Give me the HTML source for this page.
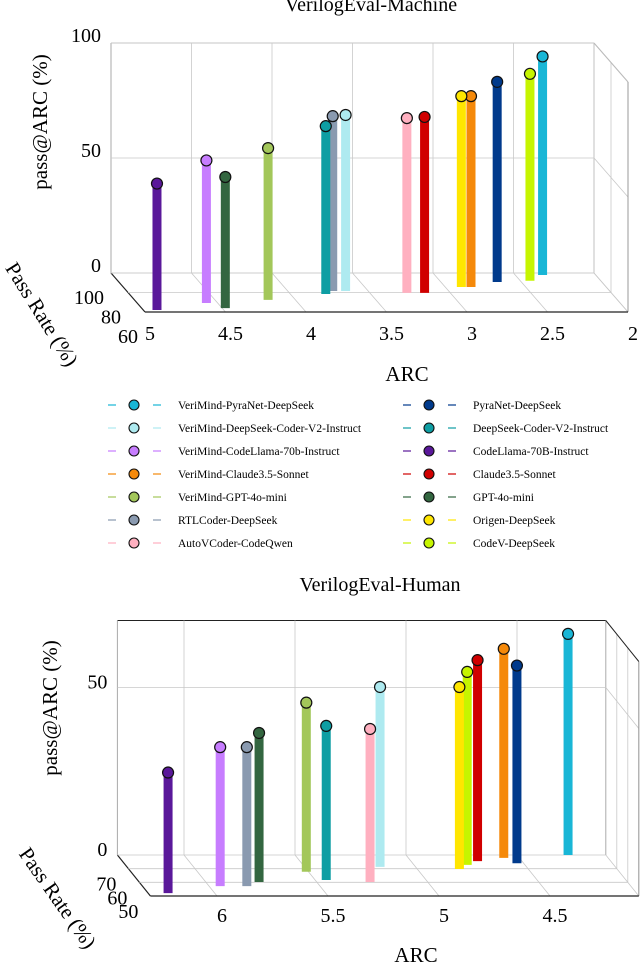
<!DOCTYPE html>
<html><head><meta charset="utf-8"><style>
html,body{margin:0;padding:0;background:#fff;}
svg{display:block;font-family:"Liberation Serif",serif;}
</style></head><body>
<svg id="fig" width="640" height="968" viewBox="0 0 640 968" xmlns="http://www.w3.org/2000/svg">
<g id="top"></g>
<g id="bot"></g>
<g id="legend"></g>
</svg>
<script>
const models = ["VeriMind-PyraNet-DeepSeek","VeriMind-DeepSeek-Coder-V2-Instruct","VeriMind-CodeLlama-70b-Instruct","VeriMind-Claude3.5-Sonnet","VeriMind-GPT-4o-mini","RTLCoder-DeepSeek","AutoVCoder-CodeQwen","PyraNet-DeepSeek","DeepSeek-Coder-V2-Instruct","CodeLlama-70B-Instruct","Claude3.5-Sonnet","GPT-4o-mini","Origen-DeepSeek","CodeV-DeepSeek"];
const colors = ["#19b6d6","#aeeaf0","#c77dff","#f5890a","#a3c75a","#8a9ab0","#ffb0c0","#003a8c","#0e9ea3","#5a189a","#d00000","#336640","#ffe600","#c6f500"];
// VerilogEval-Machine
const machineArc   = [2.33,3.64,4.57,2.84,4.17,3.72,3.27,2.65,3.78,4.915,3.16,4.48,2.90,2.44];
const machineRate  = [98,81.6,69.2,85.6,72.4,81.6,79.6,90.8,78.4,62,79.6,64,85.6,92];
const machineScore = [95,76.5,62,83,66,76,76,87,73,55,76.5,57,83,90];
const machineArcTicks = [5,4.5,4,3.5,3,2.5,2];
const machineZTicks = [0,50,100];
const machineRateTicks = [100,80,60];
// VerilogEval-Human
const humanArc   = [4.27,5.16,5.95,4.57,5.51,5.83,5.26,4.53,5.45,6.21,4.70,5.76,4.81,4.76];
const humanRate  = [80,71.3,57.2,77.9,67.7,57.2,60.2,74,61.7,52.1,75.5,60.2,69.8,72.8];
const humanScore = [66,53.7,41.5,62.4,50.5,41.5,45.7,59,46,36,60,44.5,54.3,57.6];
const humanArcTicks = [6,5.5,5,4.5];
const humanZTicks = [0,50];
const humanRateTicks = [70,60,50];

const NS="http://www.w3.org/2000/svg";
function mk(parent,tag,attrs,text){const e=document.createElementNS(NS,tag);for(const k in attrs)e.setAttribute(k,attrs[k]);if(text!==undefined)e.textContent=text;parent.appendChild(e);return e;}

function drawChart(g,cfg,arcs,rates,scores,arcTicks,zTicks,rateTicks){
  const P=(arc,t,z)=>[cfg.ox+(cfg.arcRef-arc)*cfg.sx+cfg.dx*t, cfg.oy+cfg.dy*t-cfg.sz*z];
  const T=p=>(cfg.pmax-p)/(cfg.pmax-cfg.pmin);
  const grid="#c8c8c8";
  const L=(a,b,stroke,w)=>{const l=mk(g,"line",{x1:a[0],y1:a[1],x2:b[0],y2:b[1],stroke:stroke,"stroke-width":w||0.8});
    
    return l;};
  L(P(cfg.aL,0,cfg.zTop),P(cfg.aR,0,cfg.zTop),cfg.topStroke,1);
  L(P(cfg.aL,0,0),P(cfg.aL,0,cfg.zTop),"#aaa",1);
  L(P(cfg.aR,0,0),P(cfg.aR,0,cfg.zTop),"#aaa",1);
  arcTicks.forEach(a=>{ if(a<cfg.aL&&a>cfg.aR) L(P(a,0,0),P(a,0,cfg.zTop),grid); L(P(a,0,0),P(a,1,0),grid);});
  L(P(cfg.aL,0,0),P(cfg.aL,1,0),"#222",1.2);
  zTicks.forEach(z=>{L(P(cfg.aL,0,z),P(cfg.aR,0,z),grid); L(P(cfg.aR,0,z),P(cfg.aR,1,z),grid);});
  rateTicks.forEach(p=>{const t=T(p); L(P(cfg.aL,t,0),P(cfg.aR,t,0),grid); L(P(cfg.aR,t,0),P(cfg.aR,t,cfg.zTop),grid);});
  L(P(cfg.aR,0,cfg.zTop),P(cfg.aR,1,cfg.zTop),cfg.topStroke,1);
  L(P(cfg.aR,1,0),P(cfg.aR,1,cfg.zTop),"#999",1);
  L(P(cfg.aL,1,0),P(cfg.aR,1,0),"#222",1.2);
  zTicks.forEach(z=>{const p=P(cfg.aL,0,z);const e=mk(g,"text",{x:p[0]-10,y:p[1]+cfg.zLabDy,"text-anchor":"end","font-size":20},String(z));
    
    });
  arcTicks.forEach(a=>{const p=P(a,1,0);const e=mk(g,"text",{x:p[0]+5,y:p[1]+cfg.arcLabDy,"text-anchor":"middle","font-size":20},String(a));
    
    });
  rateTicks.forEach(r=>{const p=P(cfg.aL,T(r),0);const e=mk(g,"text",{x:p[0]+cfg.rOff[0],y:p[1]+cfg.rOff[1],"text-anchor":"end","font-size":20},String(r));
    
    });
  const idx=arcs.map((_,i)=>i).sort((a,b)=>T(rates[a])-T(rates[b]));
  idx.forEach(i=>{
    const t=T(rates[i]);const b=P(arcs[i],t,0),top=P(arcs[i],t,scores[i]);
    const bar=mk(g,"line",{x1:b[0],y1:b[1],x2:top[0],y2:top[1],stroke:colors[i],"stroke-width":9});
    
    
    const c=mk(g,"circle",{cx:top[0],cy:top[1],r:5.5,fill:colors[i],stroke:"#111","stroke-width":1.2});
    
    
  });
  const tt=mk(g,"text",{x:cfg.title[0],y:cfg.title[1],"text-anchor":"middle","font-size":20},cfg.titleText);
  
  
  const yl=mk(g,"text",{x:0,y:0,"text-anchor":"middle","font-size":21,transform:`translate(${cfg.ylab[0]},${cfg.ylab[1]}) rotate(-90)`},"pass@ARC (%)");
  
  
  const xl=mk(g,"text",{x:cfg.xlab[0],y:cfg.xlab[1],"text-anchor":"middle","font-size":21},"ARC");
  
  
  const dl=mk(g,"text",{x:0,y:0,"text-anchor":"middle","font-size":21,transform:`translate(${cfg.dlab[0]},${cfg.dlab[1]}) rotate(${cfg.dlab[2]})`},"Pass Rate (%)");
  
  
}

drawChart(document.getElementById("top"),{ox:111,arcRef:5,sx:161,dx:34,oy:273,dy:39,sz:2.3,aL:5,aR:2,zTop:100,pmin:60,pmax:100,
  topStroke:"#bbb",zLabDy:-1,arcLabDy:28,rOff:[-7,31],title:[371,11],titleText:"VerilogEval-Machine",ylab:[47,122],xlab:[407,381],dlab:[36,318,58]},
  machineArc,machineRate,machineScore,machineArcTicks,machineZTicks,machineRateTicks);
drawChart(document.getElementById("bot"),{ox:184,arcRef:6,sx:222,dx:33,oy:855,dy:41,sz:3.35,aL:6.30,aR:4.10,zTop:70,pmin:50,pmax:80,
  topStroke:"#222",zLabDy:1,arcLabDy:26,rOff:[-12,22],title:[380,591],titleText:"VerilogEval-Human",ylab:[57,708],xlab:[416,962],dlab:[52,902,55]},
  humanArc,humanRate,humanScore,humanArcTicks,humanZTicks,humanRateTicks);

const lg=document.getElementById("legend");
models.forEach((m,i)=>{
  const col=i<7?0:1,row=i%7;const y=405+row*23;const x0=col?403:108;
  const d1=mk(lg,"line",{x1:x0,y1:y,x2:x0+8,y2:y,stroke:colors[i],"stroke-width":1.5,opacity:0.8});
  
  
  const d2=mk(lg,"line",{x1:x0+45,y1:y,x2:x0+53,y2:y,stroke:colors[i],"stroke-width":1.5,opacity:0.8});
  
  
  const c=mk(lg,"circle",{cx:x0+26,cy:y,r:5,fill:colors[i],stroke:"#111","stroke-width":1.1});
  
  
  const t=mk(lg,"text",{x:x0+70,y:y+4,"font-size":11.5},m);
  
  
});
</script>
</body></html>
